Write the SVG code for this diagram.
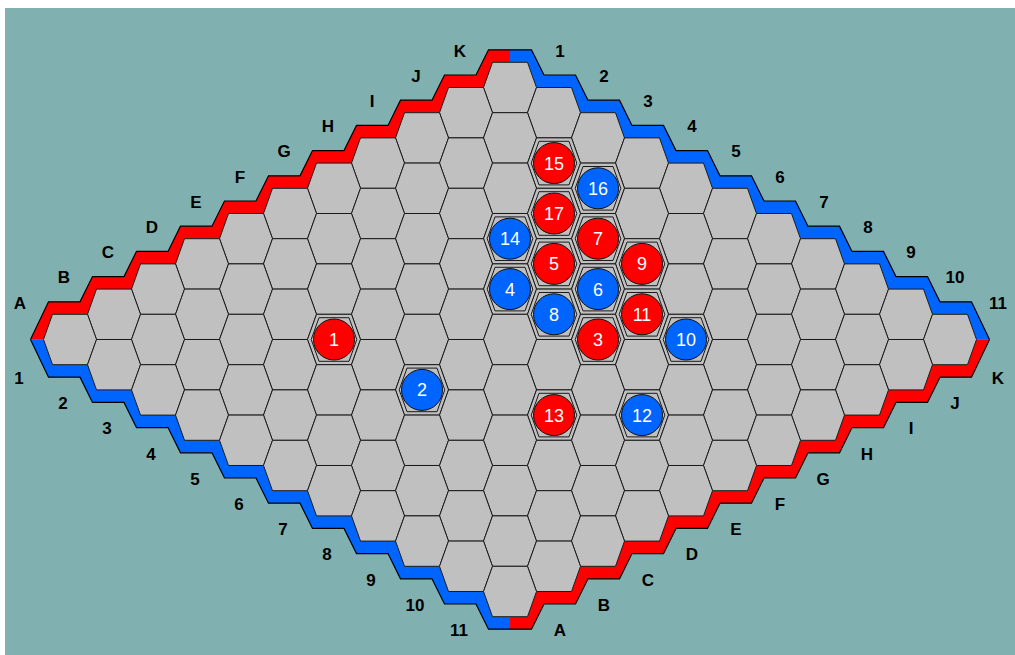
<svg xmlns="http://www.w3.org/2000/svg" width="1015" height="655" viewBox="0 0 1015 655">
<style>
.hex{fill:#c0c0c0;stroke:#1a1a1a;stroke-width:1}
.inhex{fill:none;stroke:#1a1a1a;stroke-width:1}
.outer{fill:none;stroke:#000;stroke-width:1.2;stroke-linejoin:miter}
.lbl{font-family:"Liberation Sans",Arial,sans-serif;font-weight:bold;font-size:17px;fill:#000;text-anchor:middle}
.num{font-family:"Liberation Sans",Arial,sans-serif;font-size:18px;fill:#fff;text-anchor:middle}
.red{fill:#ff0000;stroke:#111;stroke-width:1}
.blue{fill:#0064ff;stroke:#111;stroke-width:1}
</style>
<defs>
<polygon id="h" class="hex" points="-26.5,0 -17.5,-25.2 17.5,-25.2 26.5,0 17.5,25.2 -17.5,25.2"/>
<polygon id="ih" class="inhex" points="-22.8,0 -15,-21.8 15,-21.8 22.8,0 15,21.8 -15,21.8"/>
<g id="row">
<use href="#h" x="0" y="0"/><use href="#h" x="44" y="25.2"/><use href="#h" x="88" y="50.4"/><use href="#h" x="132" y="75.6"/><use href="#h" x="176" y="100.8"/><use href="#h" x="220" y="126"/><use href="#h" x="264" y="151.2"/><use href="#h" x="308" y="176.4"/><use href="#h" x="352" y="201.6"/><use href="#h" x="396" y="226.8"/><use href="#h" x="440" y="252"/>
</g>
<g id="edge">
<polygon points="30.5,339.5 48.5,301.8 80,301.8 92.5,276.6 124,276.6 136.5,251.4 168,251.4 180.5,226.2 212,226.2 224.5,201 256,201 268.5,175.8 300,175.8 312.5,150.6 344,150.6 356.5,125.4 388,125.4 400.5,100.2 432,100.2 444.5,75 476,75 488.5,49.8 510,49.8 510,62.3 492.5,62.3 483.5,87.5 448.5,87.5 439.5,112.7 404.5,112.7 395.5,137.9 360.5,137.9 351.5,163.1 316.5,163.1 307.5,188.3 272.5,188.3 263.5,213.5 228.5,213.5 219.5,238.7 184.5,238.7 175.5,263.9 140.5,263.9 131.5,289.1 96.5,289.1 87.5,314.3 52.5,314.3 43.5,339.5"/>
<polyline class="outer" points="30.5,339.5 48.5,301.8 80,301.8 92.5,276.6 124,276.6 136.5,251.4 168,251.4 180.5,226.2 212,226.2 224.5,201 256,201 268.5,175.8 300,175.8 312.5,150.6 344,150.6 356.5,125.4 388,125.4 400.5,100.2 432,100.2 444.5,75 476,75 488.5,49.8 510,49.8"/>
</g>
</defs>
<rect x="0" y="0" width="1015" height="655" fill="#ffffff"/>
<rect x="5" y="8" width="1010" height="647" fill="#80b0b0"/>

<g id="borders">
<use href="#edge" fill="#ff0000"/>
<use href="#edge" fill="#0064ff" transform="matrix(-1 0 0 1 1020 0)"/>
<use href="#edge" fill="#0064ff" transform="matrix(1 0 0 -1 0 679)"/>
<use href="#edge" fill="#ff0000" transform="matrix(-1 0 0 -1 1020 679)"/>
</g>

<g id="board">
<use href="#row" transform="translate(510 87.5)"/>
<use href="#row" transform="translate(466 112.7)"/>
<use href="#row" transform="translate(422 137.9)"/>
<use href="#row" transform="translate(378 163.1)"/>
<use href="#row" transform="translate(334 188.3)"/>
<use href="#row" transform="translate(290 213.5)"/>
<use href="#row" transform="translate(246 238.7)"/>
<use href="#row" transform="translate(202 263.9)"/>
<use href="#row" transform="translate(158 289.1)"/>
<use href="#row" transform="translate(114 314.3)"/>
<use href="#row" transform="translate(70 339.5)"/>
</g>

<g id="labels">
<text class="lbl" x="20" y="308.5">A</text>
<text class="lbl" x="64" y="283.3">B</text>
<text class="lbl" x="108" y="258.1">C</text>
<text class="lbl" x="152" y="232.9">D</text>
<text class="lbl" x="196" y="207.7">E</text>
<text class="lbl" x="240" y="182.5">F</text>
<text class="lbl" x="284" y="157.3">G</text>
<text class="lbl" x="328" y="132.1">H</text>
<text class="lbl" x="372" y="106.9">I</text>
<text class="lbl" x="416" y="81.7">J</text>
<text class="lbl" x="460" y="56.5">K</text>
<text class="lbl" x="560" y="56.5">1</text>
<text class="lbl" x="604" y="81.7">2</text>
<text class="lbl" x="648" y="106.9">3</text>
<text class="lbl" x="692" y="132.1">4</text>
<text class="lbl" x="736" y="157.3">5</text>
<text class="lbl" x="780" y="182.5">6</text>
<text class="lbl" x="824" y="207.7">7</text>
<text class="lbl" x="868" y="232.9">8</text>
<text class="lbl" x="911" y="258.1">9</text>
<text class="lbl" x="955" y="283.3">10</text>
<text class="lbl" x="998" y="308.5">11</text>
<text class="lbl" x="19" y="384">1</text>
<text class="lbl" x="63" y="409.2">2</text>
<text class="lbl" x="107" y="434.4">3</text>
<text class="lbl" x="151" y="459.6">4</text>
<text class="lbl" x="195" y="484.8">5</text>
<text class="lbl" x="239" y="510">6</text>
<text class="lbl" x="283" y="535.2">7</text>
<text class="lbl" x="327" y="560.4">8</text>
<text class="lbl" x="371" y="585.6">9</text>
<text class="lbl" x="415" y="610.8">10</text>
<text class="lbl" x="459" y="636">11</text>
<text class="lbl" x="998" y="384">K</text>
<text class="lbl" x="955" y="409.2">J</text>
<text class="lbl" x="911" y="434.4">I</text>
<text class="lbl" x="867" y="459.6">H</text>
<text class="lbl" x="823" y="484.8">G</text>
<text class="lbl" x="780" y="510">F</text>
<text class="lbl" x="736" y="535.2">E</text>
<text class="lbl" x="692" y="560.4">D</text>
<text class="lbl" x="648" y="585.6">C</text>
<text class="lbl" x="604" y="610.8">B</text>
<text class="lbl" x="560" y="636">A</text>
</g>

<g id="stone1" transform="translate(334 339.5)"><use href="#ih"/><circle class="red" r="20.5"/><text class="num" y="6.5">1</text></g>
<g id="stone2" transform="translate(422 389.9)"><use href="#ih"/><circle class="blue" r="20.5"/><text class="num" y="6.5">2</text></g>
<g id="stone3" transform="translate(598 339.5)"><use href="#ih"/><circle class="red" r="20.5"/><text class="num" y="6.5">3</text></g>
<g id="stone4" transform="translate(510 289.1)"><use href="#ih"/><circle class="blue" r="20.5"/><text class="num" y="6.5">4</text></g>
<g id="stone5" transform="translate(554 263.9)"><use href="#ih"/><circle class="red" r="20.5"/><text class="num" y="6.5">5</text></g>
<g id="stone6" transform="translate(598 289.1)"><use href="#ih"/><circle class="blue" r="20.5"/><text class="num" y="6.5">6</text></g>
<g id="stone7" transform="translate(598 238.7)"><use href="#ih"/><circle class="red" r="20.5"/><text class="num" y="6.5">7</text></g>
<g id="stone8" transform="translate(554 314.3)"><use href="#ih"/><circle class="blue" r="20.5"/><text class="num" y="6.5">8</text></g>
<g id="stone9" transform="translate(642 263.9)"><use href="#ih"/><circle class="red" r="20.5"/><text class="num" y="6.5">9</text></g>
<g id="stone10" transform="translate(686 339.5)"><use href="#ih"/><circle class="blue" r="20.5"/><text class="num" y="6.5">10</text></g>
<g id="stone11" transform="translate(642 314.3)"><use href="#ih"/><circle class="red" r="20.5"/><text class="num" y="6.5">11</text></g>
<g id="stone12" transform="translate(642 415.1)"><use href="#ih"/><circle class="blue" r="20.5"/><text class="num" y="6.5">12</text></g>
<g id="stone13" transform="translate(554 415.1)"><use href="#ih"/><circle class="red" r="20.5"/><text class="num" y="6.5">13</text></g>
<g id="stone14" transform="translate(510 238.7)"><use href="#ih"/><circle class="blue" r="20.5"/><text class="num" y="6.5">14</text></g>
<g id="stone15" transform="translate(554 163.1)"><use href="#ih"/><circle class="red" r="20.5"/><text class="num" y="6.5">15</text></g>
<g id="stone16" transform="translate(598 188.3)"><use href="#ih"/><circle class="blue" r="20.5"/><text class="num" y="6.5">16</text></g>
<g id="stone17" transform="translate(554 213.5)"><use href="#ih"/><circle class="red" r="20.5"/><text class="num" y="6.5">17</text></g>
</svg>
